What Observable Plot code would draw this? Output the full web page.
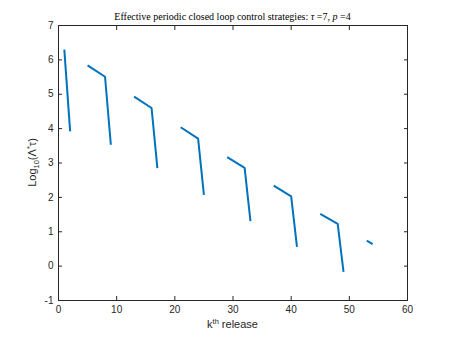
<!DOCTYPE html>
<html>
<head>
<meta charset="utf-8">
<script src="https://cdn.jsdelivr.net/npm/d3@7"></script>
<script src="https://cdn.jsdelivr.net/npm/@observablehq/plot@0.6"></script>
<style>
  html, body { margin: 0; padding: 0; background: #fff; }
  #chart { width: 450px; height: 338px; }
</style>
</head>
<body>
<div id="chart"></div>
<script>
// k-th release index
const release = [1, 2, 5, 8, 9, 13, 16, 17, 21, 24, 25, 29, 32, 33, 37, 40, 41, 45, 48, 49, 53, 54];
// Log10(Λ*τ) values
const logValue = [6.30, 3.92, 5.84, 5.51, 3.53, 4.93, 4.60, 2.85, 4.04, 3.71, 2.07, 3.17, 2.86, 1.31, 2.34, 2.03, 0.56, 1.52, 1.23, -0.17, 0.74, 0.64];
// which control period each point belongs to (separate line pieces)
const period = [1, 1, 2, 2, 2, 3, 3, 3, 4, 4, 4, 5, 5, 5, 6, 6, 6, 7, 7, 7, 8, 8];
const xTicks = [0, 10, 20, 30, 40, 50, 60];
const yTicks = [-1, 0, 1, 2, 3, 4, 5, 6, 7];

const data = release.map((k, i) => ({k, v: logValue[i], p: period[i]}));

const axisColor = "#262626";
const W = 450, H = 338;
const mL = 58, mR = 43, mT = 25, mB = 38;

const plot = Plot.plot({
  width: W,
  height: H,
  marginLeft: mL,
  marginRight: mR,
  marginTop: mT,
  marginBottom: mB,
  style: {fontFamily: "'Liberation Sans', Arial, Helvetica, sans-serif", fontSize: "10px", color: axisColor, background: "#fff"},
  x: {domain: [0, 60]},
  y: {domain: [-1, 7]},
  marks: [
    Plot.line(data, {x: "k", y: "v", z: "p", stroke: "#0072BD", strokeWidth: 2, strokeLinejoin: "miter", strokeLinecap: "butt"}),
    Plot.frame({stroke: axisColor, strokeWidth: 1}),
    Plot.axisX({anchor: "bottom", ticks: xTicks, tickSize: -4, tickFormat: () => "", label: null}),
    Plot.axisX({anchor: "top", ticks: xTicks, tickSize: -4, tickFormat: () => "", label: null}),
    Plot.axisY({anchor: "left", ticks: yTicks, tickSize: -4, tickFormat: () => "", label: null}),
    Plot.axisY({anchor: "right", ticks: yTicks, tickSize: -4, tickFormat: () => "", label: null}),
    Plot.axisX({anchor: "bottom", ticks: xTicks, tickSize: 0, tickPadding: 5, tickFormat: d => String(d), label: null}),
    Plot.axisY({anchor: "left", ticks: yTicks, tickSize: 0, tickPadding: 5, tickFormat: d => String(d), label: null})
  ]
});

document.getElementById("chart").appendChild(plot);

const svg = d3.select(plot);
const cx = (mL + (W - mR)) / 2;

// Title (LaTeX-style serif)
const title = svg.append("text")
  .attr("x", cx).attr("y", 20)
  .attr("text-anchor", "middle")
  .attr("font-family", "'Liberation Serif', 'DejaVu Serif', serif")
  .attr("font-size", "10px")
  .attr("fill", "#000");
title.append("tspan").text("Effective periodic closed loop control strategies: ");
title.append("tspan").attr("font-style", "italic").text("τ");
title.append("tspan").text(" =7, ");
title.append("tspan").attr("font-style", "italic").text("p");
title.append("tspan").text(" =4");

// x label: k^th release
const xl = svg.append("text")
  .attr("x", cx).attr("y", 328)
  .attr("text-anchor", "middle")
  .attr("font-family", "'Liberation Sans', Arial, sans-serif")
  .attr("font-size", "11px")
  .attr("fill", axisColor);
xl.append("tspan").text("k");
xl.append("tspan").attr("font-size", "7.5px").attr("dy", "-4").text("th");
xl.append("tspan").attr("dy", "4").text(" release");

// y label: Log_10(Λ^*τ)
const cy = (mT + (H - mB)) / 2;
const yl = svg.append("text")
  .attr("transform", `translate(36,${cy}) rotate(-90)`)
  .attr("text-anchor", "middle")
  .attr("font-family", "'Liberation Sans', Arial, sans-serif")
  .attr("font-size", "11px")
  .attr("fill", axisColor);
yl.append("tspan").text("Log");
yl.append("tspan").attr("font-size", "7.5px").attr("dy", "3").text("10");
yl.append("tspan").attr("dy", "-3").text("(Λ");
yl.append("tspan").attr("font-size", "7.5px").attr("dy", "-4").text("*");
yl.append("tspan").attr("dy", "4").text("τ)");
</script>
</body>
</html>
